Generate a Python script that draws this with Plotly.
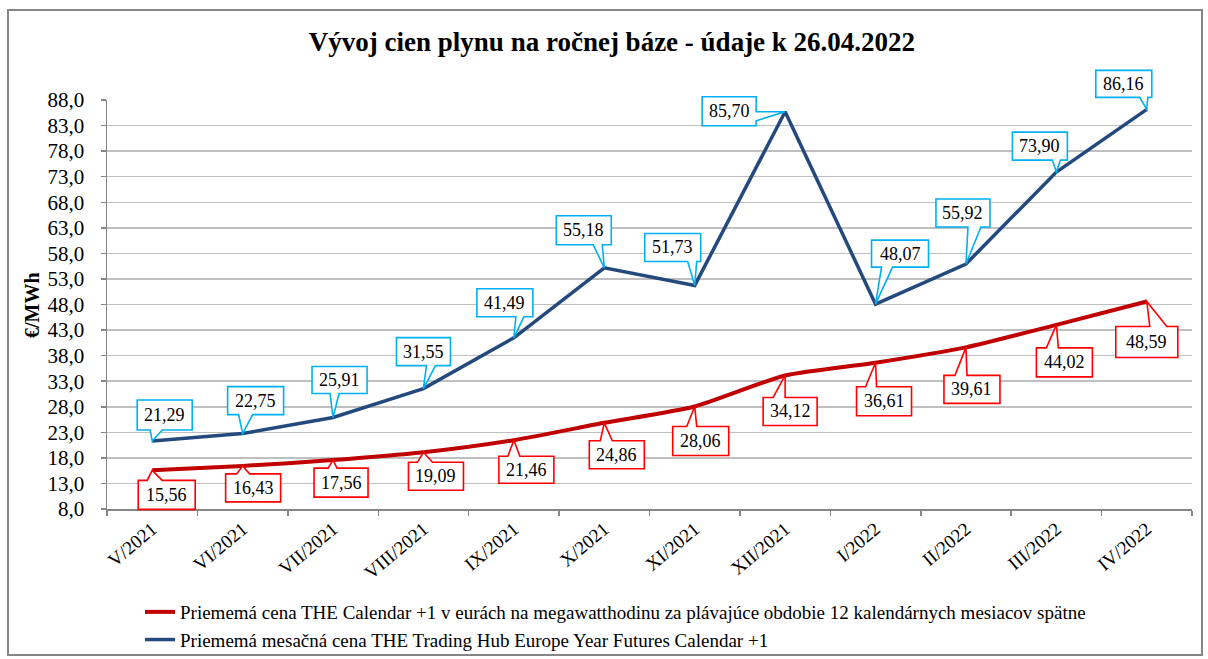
import plotly.graph_objects as go

# ---------------- data ----------------
categories = ["V/2021", "VI/2021", "VII/2021", "VIII/2021", "IX/2021", "X/2021",
              "XI/2021", "XII/2021", "I/2022", "II/2022", "III/2022", "IV/2022"]
futures_price = [21.29, 22.75, 25.91, 31.55, 41.49, 55.18, 51.73, 85.70, 48.07, 55.92, 73.90, 86.16]
average_price = [15.56, 16.43, 17.56, 19.09, 21.46, 24.86, 28.06, 34.12, 36.61, 39.61, 44.02, 48.59]
futures_labels = ["21,29", "22,75", "25,91", "31,55", "41,49", "55,18",
                  "51,73", "85,70", "48,07", "55,92", "73,90", "86,16"]
average_labels = ["15,56", "16,43", "17,56", "19,09", "21,46", "24,86",
                  "28,06", "34,12", "36,61", "39,61", "44,02", "48,59"]
ytick_vals = [8, 13, 18, 23, 28, 33, 38, 43, 48, 53, 58, 63, 68, 73, 78, 83, 88]
ytick_text = ["8,0", "13,0", "18,0", "23,0", "28,0", "33,0", "38,0", "43,0", "48,0",
              "53,0", "58,0", "63,0", "68,0", "73,0", "78,0", "83,0", "88,0"]
y_range = [8, 88]

name_avg = "Priememá cena THE Calendar +1 v eurách na megawatthodinu za plávajúce obdobie 12 kalendárnych mesiacov spätne"
name_fut = "Priememá mesačná cena THE Trading Hub Europe Year Futures Calendar +1"

# callout label placement (pixel offsets from the data point, screen y downward)
blue_boxes = [(-15, -41, 40, -11), (-15, -47, 41, -19), (-21, -51, 34, -24), (-27, -51, 27, -23),
              (-37, -49, 19, -21), (-48, -52, 7, -23), (-50, -52, 6, -24), (-83, -15, -29, 14),
              (-4, -64, 53, -37), (-30, -65, 24, -37), (-44, -40, 11, -12), (-51, -39, 5, -12)]
blue_wedges = [(-2, 10), (-4, 10), (-3, 6), (3, 12), (2, 10), (-11, -2),
               (-7, 2), (0, 9), (6, 17), (2, 15), (-4, 4), (-7, 1)]
blue_sides = ["b", "b", "b", "b", "b", "b", "b", "r", "b", "b", "b", "b"]
red_boxes = [(-14, 10, 43, 39), (-17, 8, 38, 36), (-19, 8, 35, 37), (-15, 10, 40, 38),
             (-15, 16, 40, 43), (-15, 18, 40, 46), (-22, 20, 34, 49), (-22, 22, 32, 50),
             (-19, 24, 36, 53), (-22, 28, 34, 56), (-20, 23, 36, 52), (-31, 25, 31, 56)]
red_wedges = [(-5, 10), (-6, 7), (-5, 4), (-6, 9), (-6, 6), (-4, 8),
              (-8, 2), (-12, 0), (-10, 1), (-11, 1), (-10, 2), (3, 20)]
red_sides = ["t"] * 12

FONT = "Liberation Serif"
BLUE_LINE = "#244a7d"
RED_LINE = "#c00000"
BLUE_BOX = "#00b0f0"
RED_BOX = "#ff0000"

# plot area in pixels (figure 1208 x 659)
L, R, T, B = 107, 16, 100, 150
PW, PH = 1208 - L - R, 659 - T - B


def callout_path(box, wedge, side):
    bx0, by0, bx1, by1 = box
    w0, w1 = wedge
    if side == "b":
        pts = [(bx0, by0), (bx1, by0), (bx1, by1), (w1, by1), (0, 0), (w0, by1), (bx0, by1)]
    elif side == "t":
        pts = [(bx0, by0), (w0, by0), (0, 0), (w1, by0), (bx1, by0), (bx1, by1), (bx0, by1)]
    else:  # right
        pts = [(bx0, by0), (bx1, by0), (bx1, w0), (0, 0), (bx1, w1), (bx1, by1), (bx0, by1)]
    return "M " + " L ".join(f"{x},{-y}" for x, y in pts) + " Z"


def to_paper_y(v):
    return (v - y_range[0]) / (y_range[1] - y_range[0])


fig = go.Figure()
fig.add_trace(go.Scatter(x=categories, y=average_price, mode="lines", name=name_avg,
                         line=dict(color=RED_LINE, width=4, shape="spline", smoothing=0.6),
                         hoverinfo="skip"))
fig.add_trace(go.Scatter(x=categories, y=futures_price, mode="lines", name=name_fut,
                         line=dict(color=BLUE_LINE, width=3.5), hoverinfo="skip"))

shapes = []
annotations = []
for vals, labels, boxes, wedges, sides, col in [
        (futures_price, futures_labels, blue_boxes, blue_wedges, blue_sides, BLUE_BOX),
        (average_price, average_labels, red_boxes, red_wedges, red_sides, RED_BOX)]:
    for cat, v, lab, box, wedge, side in zip(categories, vals, labels, boxes, wedges, sides):
        shapes.append(dict(type="path", xref="x", yref="paper", xsizemode="pixel", ysizemode="pixel",
                           xanchor=cat, yanchor=to_paper_y(v), path=callout_path(box, wedge, side),
                           fillcolor="white", line=dict(color=col, width=1.6), layer="above"))
        annotations.append(dict(x=cat, y=v, xref="x", yref="y", text=lab, showarrow=False,
                                xshift=(box[0] + box[2]) / 2, yshift=-(box[1] + box[3]) / 2,
                                font=dict(family=FONT, size=18, color="black")))

# outer chart frame
shapes.append(dict(type="rect", xref="paper", yref="paper",
                   x0=(8 - L) / PW, x1=(1202 - L) / PW,
                   y0=(T + PH - 655) / PH, y1=(T + PH - 10) / PH,
                   line=dict(color="#868686", width=2), fillcolor="rgba(0,0,0,0)", layer="below"))

# y-axis title
annotations.append(dict(text="<b>€/MWh</b>", xref="paper", yref="paper",
                        x=(32 - L) / PW, y=(T + PH - 305) / PH, xanchor="center", yanchor="middle",
                        showarrow=False, textangle=-90,
                        font=dict(family=FONT, size=20, color="black")))

fig.update_layout(
    width=1208, height=659, autosize=False,
    margin=dict(l=L, r=R, t=T, b=B, autoexpand=False),
    paper_bgcolor="white", plot_bgcolor="white",
    title=dict(text="<b>Vývoj cien plynu na ročnej báze - údaje k 26.04.2022</b>",
               x=612 / 1208, xref="container", xanchor="center",
               y=1 - 42 / 659, yref="container", yanchor="middle",
               font=dict(family=FONT, size=27, color="black")),
    font=dict(family=FONT, color="black"),
    shapes=shapes, annotations=annotations,
    showlegend=True,
    legend=dict(x=(140 - L) / PW, y=(T + PH - 593) / PH, xanchor="left", yanchor="top",
                orientation="v", font=dict(family=FONT, size=19, color="black"),
                bgcolor="rgba(0,0,0,0)", itemclick=False, itemdoubleclick=False),
)

fig.update_xaxes(type="category", categoryorder="array", categoryarray=categories,
                 range=[-0.5, len(categories) - 0.5], automargin=False,
                 showline=True, linecolor="#868686", linewidth=1.5,
                 ticks="outside", ticklen=5, tickcolor="#868686", tickwidth=1.5,
                 tickson="boundaries", showgrid=False, tickangle=-40,
                 tickfont=dict(family=FONT, size=19, color="black"), zeroline=False)
fig.update_yaxes(range=y_range, tickvals=ytick_vals, ticktext=ytick_text, automargin=False,
                 showline=True, linecolor="#868686", linewidth=1.5,
                 ticks="outside", ticklen=5, tickcolor="#868686", tickwidth=1.5,
                 showgrid=True, gridcolor="#bfbfbf", gridwidth=1.5, zeroline=False,
                 tickfont=dict(family=FONT, size=21, color="black"), ticklabelstandoff=12)

fig.write_html("out.html", config={"displayModeBar": False, "staticPlot": True},
               post_script="document.body.style.margin='0';document.body.style.overflow='hidden';")
